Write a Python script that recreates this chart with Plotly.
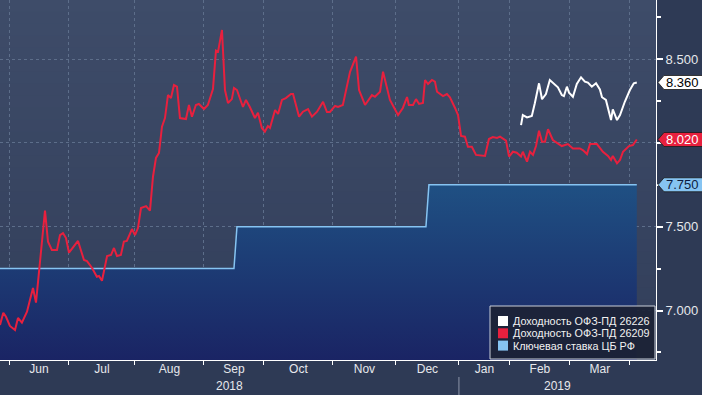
import plotly.graph_objects as go

# ---------------- data (x = trading-day index, 0 = 1 Jun 2018) ----------------
month_labels = ["Jun", "Jul", "Aug", "Sep", "Oct", "Nov", "Dec", "Jan", "Feb", "Mar"]
month_start_day = [0, 20, 42, 65, 85, 108, 129, 150, 167, 187, 207]  # incl. Apr 1 boundary
year_labels = ["2018", "2019"]

red_day = [-3.0, -1.9, -1.0, 0.3, 2.0, 3.0, 4.3, 6.0, 8.0, 9.0, 10.3, 12.0, 13.0, 14.3, 16.0,
           17.0, 18.0, 19.0, 20.0, 21.3, 23.0, 25.0, 26.0, 27.7, 29.3, 30.0, 31.0, 32.7, 34.0,
           35.0, 36.0, 37.3, 38.3, 39.3, 41.0, 42.0, 43.0, 44.0, 45.7, 47.0, 48.0, 49.0, 50.0,
           51.0, 52.0, 53.0, 54.0, 55.0, 56.0, 57.0, 59.0, 60.0, 61.0, 62.3, 63.3, 65.0, 66.3,
           68.0, 69.0, 69.7, 71.0, 72.0, 73.0, 74.3, 75.0, 76.0, 78.0, 79.0, 80.3, 82.0, 83.0,
           84.3, 85.3, 86.3, 87.0, 88.7, 89.7, 91.0, 92.3, 94.0, 94.7, 96.7, 98.0, 99.7, 101.0,
           102.7, 104.7, 106.0, 107.0, 108.7, 109.7, 111.3, 112.7, 113.7, 115.7, 116.7, 118.7,
           121.0, 122.0, 123.7, 124.7, 125.7, 127.0, 129.7, 131.3, 132.7, 133.3, 134.7, 135.7,
           136.7, 138.0, 138.7, 139.7, 141.0, 142.0, 142.7, 144.7, 146.0, 147.0, 148.7, 149.7,
           150.7, 152.0, 153.0, 154.3, 155.7, 157.7, 158.7, 160.0, 161.3, 162.7, 163.7, 165.7,
           166.7, 168.0, 169.3, 170.7, 171.3, 172.7, 173.7, 174.7, 175.7, 176.7, 177.7, 178.7,
           179.7, 181.3, 183.0, 184.3, 186.3, 188.0, 190.3, 191.3, 192.7, 193.7, 196.0, 198.0,
           199.7, 200.7, 201.3, 202.7, 203.7, 204.7, 206.7, 208.0, 209.3]
red_yield = [6.914, 6.987, 6.963, 6.908, 6.884, 6.956, 6.928, 6.993, 7.134, 7.047, 7.284, 7.596,
             7.411, 7.361, 7.361, 7.450, 7.462, 7.432, 7.345, 7.373, 7.415, 7.301, 7.295, 7.254,
             7.202, 7.206, 7.178, 7.325, 7.331, 7.373, 7.325, 7.331, 7.411, 7.415, 7.486, 7.450,
             7.492, 7.611, 7.623, 7.596, 7.798, 7.910, 7.940, 8.096, 8.148, 8.285, 8.267, 8.345,
             8.335, 8.148, 8.142, 8.226, 8.156, 8.226, 8.232, 8.202, 8.226, 8.321, 8.550, 8.544,
             8.673, 8.315, 8.238, 8.261, 8.327, 8.315, 8.214, 8.256, 8.214, 8.148, 8.180, 8.089,
             8.067, 8.100, 8.089, 8.196, 8.172, 8.256, 8.267, 8.291, 8.291, 8.156, 8.186, 8.202,
             8.156, 8.186, 8.245, 8.184, 8.184, 8.220, 8.214, 8.226, 8.335, 8.424, 8.514, 8.315,
             8.226, 8.285, 8.275, 8.305, 8.424, 8.355, 8.256, 8.166, 8.208, 8.273, 8.226, 8.226,
             8.261, 8.232, 8.238, 8.375, 8.351, 8.375, 8.365, 8.305, 8.279, 8.291, 8.272, 8.208,
             8.166, 8.041, 8.037, 7.977, 7.977, 7.928, 7.922, 7.922, 8.023, 8.035, 8.029, 8.037,
             8.013, 7.918, 7.947, 7.941, 7.918, 7.947, 7.888, 7.947, 7.928, 7.981, 8.072, 8.007,
             8.007, 8.081, 8.017, 7.997, 7.981, 7.993, 7.967, 7.967, 7.957, 7.933, 7.993, 7.993,
             7.947, 7.922, 7.898, 7.922, 7.878, 7.898, 7.947, 7.981, 7.987, 8.020]

white_day = [170.7, 171.3, 172.7, 174.3, 175.3, 176.7, 177.7, 179.0, 180.3, 181.7, 183.0, 184.3,
             185.0, 186.0, 186.7, 188.0, 189.3, 190.7, 192.0, 193.0, 194.3, 195.7, 197.0, 197.7,
             199.0, 200.7, 201.3, 202.7, 203.7, 205.3, 207.0, 208.3, 209.3]
white_yield = [8.106, 8.166, 8.152, 8.160, 8.236, 8.355, 8.260, 8.291, 8.375, 8.351, 8.331, 8.285,
               8.279, 8.335, 8.299, 8.275, 8.351, 8.391, 8.365, 8.359, 8.335, 8.355, 8.319, 8.272,
               8.256, 8.136, 8.200, 8.136, 8.166, 8.245, 8.315, 8.355, 8.360]

key_day = [-3.0, 75.0, 76.0, 139.0, 140.0, 209.3]
key_rate = [7.25, 7.25, 7.50, 7.50, 7.75, 7.75]

series_names = ["Доходность ОФЗ-ПД 26226", "Доходность ОФЗ-ПД 26209", "Ключевая ставка ЦБ РФ"]

# ---------------- style ----------------
X_RANGE = [-3.0, 215.7]
Y_RANGE = [6.705, 8.852]
W, H = 702, 395
ML, MR, MT, MB = 0, 46, 0, 35
PW, PH = W - ML - MR, H - MT - MB
FONT = "Liberation Sans"
TXT = "#e6e8ec"
RED = "#e8203e"
WHITE = "#ffffff"
BLUE = "#86c4f2"
GRID = "#5d6e8a"

fig = go.Figure()

fig.add_trace(go.Scatter(
    x=key_day, y=key_rate, name=series_names[2], mode="lines",
    line=dict(color=BLUE, width=1.5), fill="tozeroy",
    fillgradient=dict(type="vertical", start=Y_RANGE[0], stop=7.75,
                      colorscale=[[0, "#1a2464"], [1, "#1f5083"]]),
    showlegend=False, hoverinfo="skip"))
fig.add_trace(go.Scatter(
    x=red_day, y=red_yield, name=series_names[1], mode="lines",
    line=dict(color=RED, width=2), showlegend=False))
fig.add_trace(go.Scatter(
    x=white_day, y=white_yield, name=series_names[0], mode="lines",
    line=dict(color=WHITE, width=2), showlegend=False))
# carrier for the month-label axis
fig.add_trace(go.Scatter(x=[None], y=[None], xaxis="x2", showlegend=False, hoverinfo="skip"))

shapes = []
# background vertical gradient of plot area
top_c, bot_c = (0x3e, 0x4c, 0x69), (0x32, 0x3e, 0x5a)
N = 30
for i in range(N):
    t = (i + 0.5) / N
    c = tuple(round(top_c[k] + (bot_c[k] - top_c[k]) * t) for k in range(3))
    shapes.append(dict(type="rect", xref="paper", yref="paper", x0=0, x1=1,
                       y0=1 - (i + 1) / N, y1=1 - i / N + 0.001, layer="below",
                       line=dict(width=0), fillcolor="rgb(%d,%d,%d)" % c))

# year separator
jan_day = month_start_day[7]
shapes.append(dict(type="line", xref="x", yref="paper", x0=jan_day, x1=jan_day,
                   y0=1 - (377 - MT) / PH, y1=1 - (395 - MT) / PH,
                   line=dict(color="#8d96a8", width=1)))

# value tags at right axis
annotations = []
tags = [(white_yield[-1], WHITE, "#000000"), (red_yield[-1], RED, "#ffffff"),
        (key_rate[-1], BLUE, "#0d1c40")]
for val, bg, fg in tags:
    shapes.append(dict(type="path", xref="paper", yref="y", xsizemode="pixel", ysizemode="pixel",
                       xanchor=1, yanchor=val,
                       path="M 2 0 L 8 7 L 52 7 L 52 -7 L 8 -7 Z",
                       fillcolor=bg, line=dict(color="#1a1a1a", width=0.8), layer="above"))
    annotations.append(dict(xref="paper", yref="y", x=1, y=val, xanchor="left", yanchor="middle",
                            xshift=8, text="%.3f" % val, showarrow=False,
                            font=dict(family=FONT, size=13, color=fg)))

# year labels
xmin, xmax = X_RANGE
for lab, cx in zip(year_labels, [(xmin + jan_day) / 2, (jan_day + xmax) / 2]):
    annotations.append(dict(xref="x", yref="paper", x=cx, y=1 - (386 - MT) / PH,
                            text=lab, showarrow=False, xanchor="center", yanchor="middle",
                            font=dict(family=FONT, size=12, color=TXT)))

# custom legend box
def px_x(p):
    return (p - ML) / PW

def px_y(p):
    return 1 - (p - MT) / PH

shapes.append(dict(type="rect", xref="paper", yref="paper",
                   x0=px_x(490), x1=px_x(655), y0=px_y(359), y1=px_y(306),
                   fillcolor="rgba(28,34,54,0.93)", line=dict(color="#c9ced8", width=1),
                   layer="above"))
legend_colors = [WHITE, RED, BLUE]
for i, (nm, col) in enumerate(zip(series_names, legend_colors)):
    cy = 321 + 12.3 * i
    shapes.append(dict(type="rect", xref="paper", yref="paper",
                       x0=px_x(498), x1=px_x(508), y0=px_y(cy + 5), y1=px_y(cy - 5),
                       fillcolor=col, line=dict(width=0), layer="above"))
    annotations.append(dict(xref="paper", yref="paper", x=px_x(511), y=px_y(cy),
                            xanchor="left", yanchor="middle", text=nm, showarrow=False,
                            font=dict(family=FONT, size=10.8, color="#f2f2f2")))

month_centers = [(a + b) / 2 for a, b in zip(month_start_day[:-1], month_start_day[1:])]

fig.update_layout(
    width=W, height=H, margin=dict(l=ML, r=MR, t=MT, b=MB, autoexpand=False),
    paper_bgcolor="#2e3a55", plot_bgcolor="#38455f",
    showlegend=False, shapes=shapes, annotations=annotations,
    xaxis=dict(range=X_RANGE, tickmode="array", tickvals=month_start_day,
               showticklabels=False, ticks="outside", ticklen=4, tickcolor="#ffffff",
               showline=True, linecolor="#ffffff", linewidth=1,
               showgrid=True, gridcolor=GRID, griddash="dot", gridwidth=1, zeroline=False),
    xaxis2=dict(overlaying="x", anchor="y", side="bottom", range=X_RANGE, tickmode="array",
                tickvals=month_centers, ticktext=month_labels, ticks="", showgrid=False,
                showline=False, zeroline=False,
                tickfont=dict(family=FONT, size=12, color=TXT)),
    yaxis=dict(range=Y_RANGE, side="right", tickmode="array",
               tickvals=[7.0, 7.5, 8.0, 8.5], ticktext=["7.000", "7.500", "", "8.500"],
               ticks="outside", ticklen=6, tickwidth=2, tickcolor="#ffffff",
               showline=True, linecolor="#ffffff", linewidth=1,
               showgrid=True, gridcolor=GRID, griddash="dot", gridwidth=1, zeroline=False,
               tickfont=dict(family=FONT, size=13, color=TXT),
               minor=dict(tickmode="array", tickvals=[6.75, 7.25, 7.75, 8.25, 8.75],
                          ticks="outside", ticklen=4, tickcolor="#ffffff", showgrid=False)),
)

fig.write_html(
    "out.html",
    config={"displayModeBar": False},
    post_script="document.body.style.margin='0';document.body.style.overflow='hidden';",
)
